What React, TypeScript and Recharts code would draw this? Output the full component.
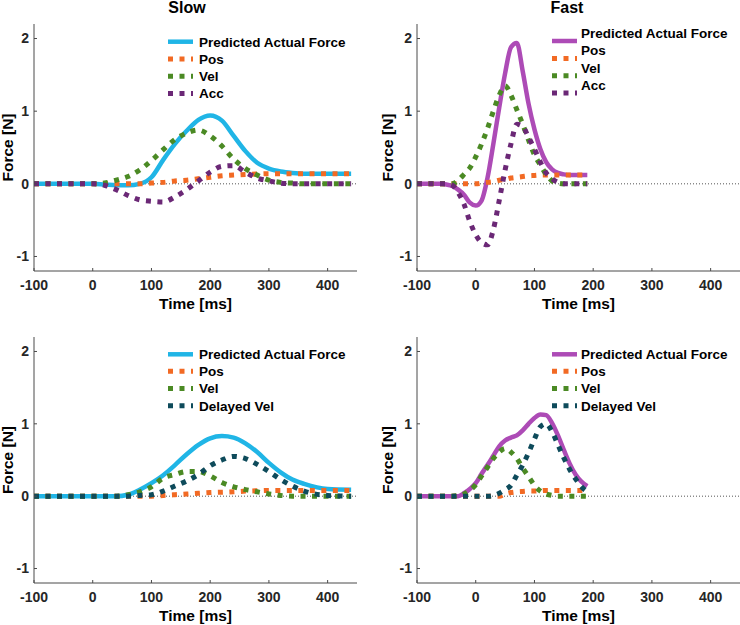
import React from 'react';
import { LineChart, Line, XAxis, YAxis, ReferenceLine } from 'recharts';

// time grids (ms)
const slowTime = [-100, -60, -20, 0, 20, 40, 60, 80, 100, 120, 140, 160, 180, 200, 220, 240, 260, 280, 300, 320, 340, 360, 400, 440];
const fastTime = [-100, -80, -60, -50, -40, -30, -20, -10, 0, 10, 20, 30, 40, 50, 60, 70, 80, 90, 100, 110, 120, 130, 140, 150, 160, 170, 180, 190];

// top row: Pos / Vel / Acc model
const slowPredicted = [0, 0, 0, 0, -0.01, -0.02, -0.02, 0, 0.09, 0.33, 0.55, 0.73, 0.88, 0.94, 0.87, 0.66, 0.45, 0.29, 0.21, 0.17, 0.15, 0.14, 0.14, 0.14];
const slowPos = [0, 0, 0, 0, 0, 0, 0, 0, 0.01, 0.02, 0.04, 0.05, 0.07, 0.09, 0.11, 0.12, 0.13, 0.135, 0.14, 0.14, 0.14, 0.14, 0.14, 0.14];
const slowVel = [0, 0, 0, 0, 0.01, 0.05, 0.1, 0.19, 0.32, 0.47, 0.61, 0.7, 0.74, 0.66, 0.52, 0.34, 0.21, 0.12, 0.05, 0.02, 0.01, 0, 0, 0];
const slowAcc = [0, 0, 0, 0, -0.02, -0.08, -0.16, -0.22, -0.24, -0.25, -0.18, -0.08, 0.04, 0.16, 0.24, 0.25, 0.16, 0.08, 0.04, 0.01, 0, 0, 0, 0];

const fastPredicted = [0, 0, 0, -0.01, -0.03, -0.08, -0.15, -0.26, -0.3, -0.23, 0.08, 0.55, 1.05, 1.52, 1.88, 1.94, 1.55, 1.1, 0.75, 0.48, 0.3, 0.2, 0.15, 0.13, 0.12, 0.12, 0.12, 0.12];
const fastPos = [0, 0, 0, 0, 0, 0, 0, 0, 0, 0.01, 0.02, 0.03, 0.05, 0.06, 0.08, 0.09, 0.1, 0.11, 0.115, 0.12, 0.12, 0.12, 0.12, 0.12, 0.12, 0.12, 0.12, 0.12];
const fastVel = [0, 0, 0, 0, 0, 0.05, 0.13, 0.22, 0.37, 0.55, 0.76, 1.0, 1.22, 1.35, 1.22, 1.02, 0.82, 0.6, 0.4, 0.26, 0.13, 0.04, 0.01, 0, 0, 0, 0, 0];
const fastAcc = [0, 0, 0, 0, -0.02, -0.12, -0.28, -0.52, -0.7, -0.81, -0.84, -0.63, -0.23, 0.19, 0.55, 0.82, 0.79, 0.64, 0.48, 0.3, 0.15, 0.07, 0.02, 0, 0, 0, 0, 0];

// bottom row: Pos / Vel / Delayed Vel model
const slowPredicted2 = [0, 0, 0, 0, 0, 0, 0.02, 0.09, 0.18, 0.29, 0.43, 0.58, 0.71, 0.8, 0.83, 0.81, 0.73, 0.61, 0.46, 0.33, 0.23, 0.17, 0.1, 0.09];
const slowPos2 = [0, 0, 0, 0, 0, 0, 0, 0, 0, 0.01, 0.02, 0.03, 0.04, 0.05, 0.055, 0.06, 0.07, 0.075, 0.08, 0.08, 0.08, 0.08, 0.08, 0.08];
const slowVel2 = [0, 0, 0, 0, 0, 0, 0.02, 0.06, 0.13, 0.25, 0.3, 0.34, 0.34, 0.28, 0.19, 0.13, 0.09, 0.06, 0.03, 0.01, 0, 0, 0, 0];
const slowDelayed2 = [0, 0, 0, 0, 0, 0, 0, 0.01, 0.02, 0.07, 0.14, 0.21, 0.3, 0.42, 0.5, 0.55, 0.52, 0.44, 0.34, 0.23, 0.14, 0.07, 0.01, 0];

const fastPredicted2 = [0, 0, 0, 0, 0, 0, 0.04, 0.1, 0.18, 0.31, 0.43, 0.56, 0.69, 0.77, 0.81, 0.84, 0.91, 1.0, 1.08, 1.13, 1.12, 1.01, 0.84, 0.64, 0.45, 0.3, 0.2, 0.14];
const fastPos2 = [0, 0, 0, 0, 0, 0, 0, 0, 0, 0, 0, 0, 0, 0.03, 0.05, 0.06, 0.065, 0.07, 0.07, 0.075, 0.08, 0.08, 0.08, 0.08, 0.08, 0.08, 0.08, 0.08];
const fastVel2 = [0, 0, 0, 0, 0, 0.01, 0.03, 0.08, 0.16, 0.28, 0.4, 0.52, 0.61, 0.66, 0.61, 0.52, 0.39, 0.27, 0.15, 0.07, 0.03, 0.01, 0, 0, 0, 0, 0, 0];
const fastDelayed2 = [0, 0, 0, 0, 0, 0, 0, 0, 0, 0, 0, 0.01, 0.04, 0.09, 0.15, 0.29, 0.43, 0.6, 0.79, 0.96, 1.0, 0.89, 0.71, 0.53, 0.37, 0.24, 0.13, 0.06];

const xTicks = [-100, 0, 100, 200, 300, 400];
const yTicks = [-1, 0, 1, 2];

const FONT = '"Liberation Sans", Arial, Helvetica, sans-serif';
const CYAN = '#20b5e6';
const MAGENTA = '#ad4bb6';
const ORANGE = '#f26a24';
const GREEN = '#4b8a24';
const PURPLE = '#6b2876';
const TEAL = '#0e4b5b';
const DOTS = '5 6.5';

type Series = { key: string; name: string; color: string; dotted: boolean; values: number[] };

function toRows(time: number[], series: Series[]) {
  return time.map((t, i) => {
    const row: any = { t };
    series.forEach((s) => {
      row[s.key] = s.values[i];
    });
    return row;
  });
}

interface PanelProps {
  left: number;
  top: number;
  width: number;
  height: number;
  marginTop: number;
  marginRight: number;
  yAxisWidth: number;
  xAxisHeight: number;
  yTitleX: number;
  title?: string;
  titleX: number;
  time: number[];
  series: Series[];
  legendSampleX: number;
  legendTextX: number;
  legendRows: number[];
  legendTextShift: number;
}

function Panel(p: PanelProps) {
  const data = toRows(p.time, p.series);
  const textStyle = { fontFamily: FONT, fontWeight: 'bold' as const, fill: '#000' };

  return (
    <div style={{ position: 'absolute', left: p.left, top: p.top, width: p.width, height: p.height }}>
      <LineChart
        width={p.width}
        height={p.height}
        data={data}
        margin={{ top: p.marginTop, right: p.marginRight, bottom: 0, left: 0 }}
      >
        <XAxis
          dataKey="t"
          type="number"
          domain={[-100, 450]}
          ticks={xTicks}
          interval={0}
          allowDataOverflow
          height={p.xAxisHeight}
          axisLine={{ stroke: '#4a4a4a' }}
          tickLine={{ stroke: '#4a4a4a' }}
          tickSize={-3}
          tickMargin={12}
          tick={{ fill: '#262626', fontSize: 14, fontWeight: 'bold', fontFamily: FONT }}
          label={(props: any) => {
            const vb = props.viewBox;
            return (
              <text x={vb.x + vb.width / 2} y={vb.y + 37.5} textAnchor="middle" fontSize={15.5} {...textStyle}>
                Time [ms]
              </text>
            );
          }}
        />
        <YAxis
          type="number"
          domain={[-1.2, 2.2]}
          ticks={yTicks}
          interval={0}
          allowDataOverflow
          width={p.yAxisWidth}
          axisLine={{ stroke: '#4a4a4a' }}
          tickLine={{ stroke: '#4a4a4a' }}
          tickSize={-3}
          tickMargin={8}
          tick={{ fill: '#262626', fontSize: 14, fontWeight: 'bold', fontFamily: FONT }}
          label={(props: any) => {
            const vb = props.viewBox;
            const cy = vb.y + vb.height / 2;
            return (
              <text
                x={p.yTitleX}
                y={cy}
                transform={`rotate(-90 ${p.yTitleX} ${cy})`}
                textAnchor="middle"
                fontSize={15.5}
                {...textStyle}
              >
                Force [N]
              </text>
            );
          }}
        />
        <ReferenceLine y={0} stroke="#555" strokeWidth={1} strokeDasharray="1 2" />
        {p.series.map((s) => (
          <Line
            key={s.key}
            dataKey={s.key}
            name={s.name}
            type="monotone"
            stroke={s.color}
            strokeWidth={s.dotted ? 5 : 4.5}
            strokeDasharray={s.dotted ? DOTS : undefined}
            strokeLinecap="butt"
            dot={false}
            activeDot={false}
            isAnimationActive={false}
          />
        ))}
      </LineChart>
      <svg
        width={p.width}
        height={p.height}
        style={{ position: 'absolute', left: 0, top: 0, pointerEvents: 'none' }}
      >
        {p.title && (
          <text x={p.titleX} y={12.7} textAnchor="middle" fontSize={16} {...textStyle}>
            {p.title}
          </text>
        )}
        {p.series.map((s, i) => {
          const y = p.legendRows[i];
          return (
            <g key={s.key}>
              <line
                x1={p.legendSampleX}
                x2={p.legendSampleX + 25}
                y1={y}
                y2={y}
                stroke={s.color}
                strokeWidth={s.dotted ? 5 : 4.5}
                strokeDasharray={s.dotted ? DOTS : undefined}
              />
              <text x={p.legendTextX} y={y + 4.8 + p.legendTextShift} fontSize={13.5} {...textStyle}>
                {s.name}
              </text>
            </g>
          );
        })}
      </svg>
    </div>
  );
}

export default function App() {
  const slowTop: Series[] = [
    { key: 'pred', name: 'Predicted Actual Force', color: CYAN, dotted: false, values: slowPredicted },
    { key: 'pos', name: 'Pos', color: ORANGE, dotted: true, values: slowPos },
    { key: 'vel', name: 'Vel', color: GREEN, dotted: true, values: slowVel },
    { key: 'acc', name: 'Acc', color: PURPLE, dotted: true, values: slowAcc },
  ];
  const fastTop: Series[] = [
    { key: 'pred', name: 'Predicted Actual Force', color: MAGENTA, dotted: false, values: fastPredicted },
    { key: 'pos', name: 'Pos', color: ORANGE, dotted: true, values: fastPos },
    { key: 'vel', name: 'Vel', color: GREEN, dotted: true, values: fastVel },
    { key: 'acc', name: 'Acc', color: PURPLE, dotted: true, values: fastAcc },
  ];
  const slowBottom: Series[] = [
    { key: 'pred', name: 'Predicted Actual Force', color: CYAN, dotted: false, values: slowPredicted2 },
    { key: 'pos', name: 'Pos', color: ORANGE, dotted: true, values: slowPos2 },
    { key: 'vel', name: 'Vel', color: GREEN, dotted: true, values: slowVel2 },
    { key: 'dvel', name: 'Delayed Vel', color: TEAL, dotted: true, values: slowDelayed2 },
  ];
  const fastBottom: Series[] = [
    { key: 'pred', name: 'Predicted Actual Force', color: MAGENTA, dotted: false, values: fastPredicted2 },
    { key: 'pos', name: 'Pos', color: ORANGE, dotted: true, values: fastPos2 },
    { key: 'vel', name: 'Vel', color: GREEN, dotted: true, values: fastVel2 },
    { key: 'dvel', name: 'Delayed Vel', color: TEAL, dotted: true, values: fastDelayed2 },
  ];

  return (
    <div style={{ position: 'absolute', left: 0, top: 0, width: 740, height: 625, background: '#fff', overflow: 'hidden' }}>
      <Panel
        left={0} top={0} width={370} height={316}
        marginTop={24} marginRight={13} yAxisWidth={34} xAxisHeight={45}
        yTitleX={12.7} title="Slow" titleX={187}
        time={slowTime} series={slowTop}
        legendSampleX={168} legendTextX={199} legendRows={[41.7, 59, 76.3, 93.5]} legendTextShift={0}
      />
      <Panel
        left={370} top={0} width={370} height={316}
        marginTop={24} marginRight={0} yAxisWidth={47} xAxisHeight={45}
        yTitleX={23} title="Fast" titleX={197}
        time={fastTime} series={fastTop}
        legendSampleX={182} legendTextX={211} legendRows={[41, 58.5, 75.8, 93]} legendTextShift={-8}
      />
      <Panel
        left={0} top={310} width={370} height={315}
        marginTop={27} marginRight={13} yAxisWidth={34} xAxisHeight={42}
        yTitleX={12.7} titleX={187}
        time={slowTime} series={slowBottom}
        legendSampleX={168} legendTextX={199} legendRows={[44.3, 61.3, 78.5, 95.7]} legendTextShift={0}
      />
      <Panel
        left={370} top={310} width={370} height={315}
        marginTop={27} marginRight={0} yAxisWidth={47} xAxisHeight={42}
        yTitleX={23} titleX={197}
        time={fastTime} series={fastBottom}
        legendSampleX={182} legendTextX={211} legendRows={[44.3, 61.3, 78.5, 95.7]} legendTextShift={0}
      />
    </div>
  );
}
